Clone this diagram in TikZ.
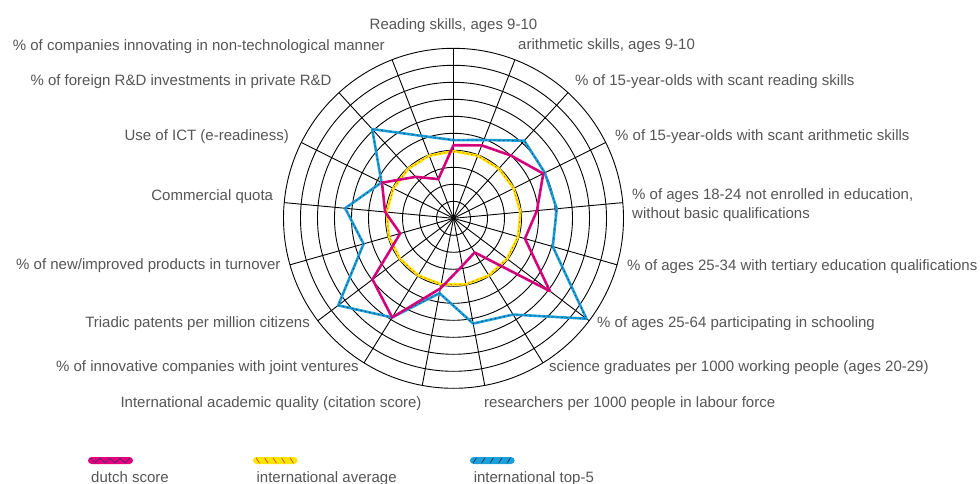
\documentclass[tikz,border=0pt]{standalone}
\usepackage{fontspec}
\setmainfont{Liberation Sans}
\definecolor{dutchc}{HTML}{E4007C}
\definecolor{dutchd}{HTML}{4B2A6E}
\definecolor{avgc}{HTML}{FFE600}
\definecolor{avgd}{HTML}{E8351F}
\definecolor{topc}{HTML}{1A9FDB}
\definecolor{topd}{HTML}{1C2B45}
\definecolor{labgray}{HTML}{555555}
\tikzset{
  gridline/.style={black, line width=0.9pt},
  lab/.style={inner sep=0pt, text=labgray, font=\fontsize{15}{18}\selectfont},
  dutchline/.style={draw=dutchc, line width=2.6pt, line join=round},
  dutchpat/.style={draw=dutchd, line width=0.5pt, dash pattern=on 1.5pt off 2.5pt, line join=round},
  avgline/.style={draw=avgc, line width=2.6pt, line join=round},
  avgpat/.style={draw=avgd, line width=0.5pt, dash pattern=on 1.5pt off 3pt, line join=round},
  topline/.style={draw=topc, line width=2.6pt, line join=round},
  toppat/.style={draw=topd, line width=0.5pt, dash pattern=on 1.5pt off 3pt, line join=round},
}
\newcommand\radarpoly[3]{\draw[#1] (-90:{17*#2}) \foreach \v [count=\k from 1] in {#3} { -- ({360*\k/17-90}:{17*\v}) } -- cycle;}
\begin{document}
\begin{tikzpicture}[x=1pt,y=-1pt]
\useasboundingbox (0,0) rectangle (980,484);
\coordinate (C) at (453.5,218.3);
\begin{scope}[shift={(C)}]
  \foreach \r in {1,...,10} \draw[gridline] (0,0) circle[radius=17*\r];
  \foreach \k in {0,...,16} \draw[gridline] (0,0) -- ({360*\k/17-90}:170);
  % international average
  \radarpoly{avgline}{3.95}{3.95,3.95,3.95,3.95,3.95,3.95,3.95,3.95,3.95,3.95,3.95,3.95,3.95,3.95,3.95,3.95}
  \radarpoly{avgpat}{3.95}{3.95,3.95,3.95,3.95,3.95,3.95,3.95,3.95,3.95,3.95,3.95,3.95,3.95,3.95,3.95,3.95}
  % international top-5
  \radarpoly{topline}{4.6}{4.94,6.18,6.0,6.1,6.07,9.8,6.66,6.3,4.48,6.86,8.5,5.5,6.4,4.73,7.1,5.2}
  \radarpoly{toppat}{4.6}{4.94,6.18,6.0,6.1,6.07,9.8,6.66,6.3,4.48,6.86,8.5,5.5,6.4,4.73,7.1,5.2}
  % dutch score
  \radarpoly{dutchline}{4.3}{4.6,5.0,5.9,4.93,4.37,7.1,2.36,2.84,4.2,6.86,5.97,3.26,4.04,4.7,3.3,2.47}
  \radarpoly{dutchpat}{4.3}{4.6,5.0,5.9,4.93,4.37,7.1,2.36,2.84,4.2,6.86,5.97,3.26,4.04,4.7,3.3,2.47}
\end{scope}
% axis labels
\node[lab, anchor=base] (l1) at (453.5,30) {Reading skills, ages 9-10};
\node[lab, anchor=base west] (l2) at (518,50) {arithmetic skills, ages 9-10};
\node[lab, anchor=base west] (l3) at (575,86) {\% of 15-year-olds with scant reading skills};
\node[lab, anchor=base west] (l4) at (615,141) {\% of 15-year-olds with scant arithmetic skills};
\node[lab, anchor=base west] (l5a) at (632,200) {\% of ages 18-24 not enrolled in education,};
\node[lab, anchor=base west] (l5b) at (632,218) {without basic qualifications};
\node[lab, anchor=base west] (l6) at (627,270) {\% of ages 25-34 with tertiary education qualifications};
\node[lab, anchor=base west] (l7) at (597,327) {\% of ages 25-64 participating in schooling};
\node[lab, anchor=base west] (l8) at (549,371) {science graduates per 1000 working people (ages 20-29)};
\node[lab, anchor=base west] (l9) at (484,407) {researchers per 1000 people in labour force};
\node[lab, anchor=base east] (l10) at (421.7,407) {International academic quality (citation score)};
\node[lab, anchor=base east] (l11) at (359,371) {\% of innovative companies with joint ventures};
\node[lab, anchor=base east] (l12) at (310,327) {Triadic patents per million citizens};
\node[lab, anchor=base east] (l13) at (280.7,269.5) {\% of new/improved products in turnover};
\node[lab, anchor=base east] (l14) at (273.3,200.5) {Commercial quota};
\node[lab, anchor=base east] (l15) at (289,141) {Use of ICT (e-readiness)};
\node[lab, anchor=base east] (l16) at (331.7,86) {\% of foreign R\&D investments in private R\&D};
\node[lab, anchor=base east] (l17) at (385,50.5) {\% of companies innovating in non-technological manner};
% legend
\fill[dutchc, rounded corners=3.5pt] (88,457) rectangle (133,464);
\draw[dutchd, line width=0.6pt] (90,458.3) \foreach \x in {0,...,3} { -- ({95+10*\x},462.7) -- ({100+10*\x},458.3) };
\fill[avgc, rounded corners=3.5pt] (253,457) rectangle (297.5,464);
\foreach \x in {0,...,4} \draw[avgd, line width=0.6pt] ({256+8.5*\x},457.8) -- ({259.5+8.5*\x},463.2);
\fill[topc, rounded corners=3.5pt] (470,457) rectangle (514.6,464);
\foreach \x in {0,...,4} \draw[topd, line width=0.6pt] ({476.5+8.5*\x},457.8) -- ({473+8.5*\x},463.2);
\node[lab, anchor=base west] (k1) at (91,482) {dutch score};
\node[lab, anchor=base west] (k2) at (256.4,482) {international average};
\node[lab, anchor=base west] (k3) at (473.6,482) {international top-5};
\end{tikzpicture}
\end{document}
